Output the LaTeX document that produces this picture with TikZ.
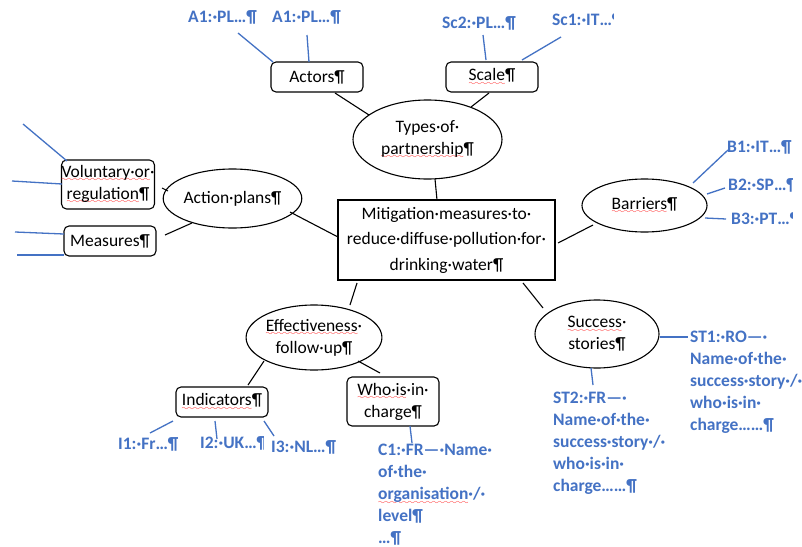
\documentclass[tikz,border=0pt]{standalone}
\usepackage{fontspec}
\setmainfont{Carlito}
\usetikzlibrary{shapes.geometric}
\font\mywave=lasy8
\newsavebox\rwbox
\newcommand\rw[1]{\sbox\rwbox{#1}\rlap{\textcolor{red}{\lower4.5pt\hbox to \wd\rwbox{\xleaders\hbox{\mywave\char58}\hfill}}}\usebox\rwbox}
\definecolor{wblue}{RGB}{68,114,196}
\newcommand\fsz{\fontsize{17.5}{22}\selectfont}
\newcommand\blk[1]{\begin{tabular}[t]{@{}l@{}}#1\end{tabular}}
\tikzset{
  box/.style={draw, rounded corners=5pt, line width=1.1pt, minimum width=92pt, inner sep=0pt, align=center, font=\fsz},
  oval/.style={draw, ellipse, line width=1.1pt, inner sep=0pt, align=center, font=\fsz},
  lbl/.style={text=wblue, font=\fsz\bfseries, anchor=base west, inner sep=0pt},
  conn/.style={line width=1.1pt},
  bconn/.style={wblue, line width=1.3pt}
}
\begin{document}
\begin{tikzpicture}[x=1pt,y=-1pt]
\useasboundingbox[fill=white] (0,0) rectangle (802,546);

% main nodes
\node[draw, line width=1.1pt, minimum width=217pt, minimum height=80pt, inner sep=0pt, align=center,
      font=\fontsize{17.5}{25.5}\selectfont] (central) at (446.5,240)
  {Mitigation·measures·to·\\reduce·diffuse·pollution·for·\\drinking·water¶};
\node[oval, minimum width=149pt, minimum height=79pt] (types) at (427.5,139.5) {Types·of·\\\rw{partnership}¶};
\node[box, minimum height=30pt] (actors) at (317,77) {Actors¶};
\node[box, minimum height=30pt] (scale) at (492,77) {\rw{Scale}¶};
\node[oval, minimum width=125pt, minimum height=53pt] (barriers) at (644.5,205.5) {\rw{Barriers}¶};
\node[oval, minimum width=125pt, minimum height=59pt] (action) at (232.5,198.5) {Action·plans¶};
\node[box, minimum height=49pt] (volreg) at (108,184.5) {\rw{Voluntary·or}·\\\rw{regulation}¶};
\node[box, minimum height=30pt] (measures) at (110,241) {Measures¶};
\node[oval, minimum width=124pt, minimum height=65pt] (effect) at (314,337.5) {\rw{Effectiveness}·\\follow·up¶};
\node[box, minimum height=30pt] (indicators) at (222,402) {\rw{Indicators}¶};
\node[box, minimum height=49pt] (who) at (393,401.5) {\rw{Who·is}·in·\\charge¶};
\node[oval, minimum width=124pt, minimum height=68pt] (success) at (597,334) {\rw{Success}·\\stories¶};

% blue labels
\node[lbl] (a1a) at (188,22) {A1:·PL…¶};
\node[lbl] (a1b) at (272,22) {A1:·PL…¶};
\node[lbl] (sc2) at (442,28) {Sc2:·PL…¶};
\begin{scope}
  \clip (0,0) rectangle (613,546);
  \node[lbl] (sc1) at (552,25.5) {Sc1:·IT…¶};
\end{scope}
\node[lbl] (b1) at (727,152.5) {B1:·IT…¶};
\begin{scope}
  \clip (0,0) rectangle (792,546);
  \node[lbl] (b2) at (728,190.5) {B2:·SP…¶};
  \node[lbl] (b3) at (731,224) {B3:·PT…¶};
\end{scope}
\node[lbl] (i1) at (118,449.5) {I1:·Fr…¶};
\begin{scope}
  \clip (0,0) rectangle (263,546);
  \node[lbl] (i2) at (200,448.5) {I2:·UK…¶};
\end{scope}
\node[lbl] (i3) at (271,452.5) {I3:·NL…¶};
\node[lbl] (c1) at (378,455.5) {\blk{C1:·FR—·Name·\\of·the·\\\rw{organisation}·/·\\level¶\\…¶}};
\node[lbl] (st1) at (690,342.5) {\blk{ST1:·RO—·\\Name·of·the·\\success·story·/·\\who·is·in·\\charge……¶}};
\node[lbl] (st2) at (553,403.5) {\blk{ST2:·FR—·\\Name·of·the·\\success·story·/·\\who·is·in·\\charge……¶}};

% free ends
\coordinate (v1) at (23,124);
\coordinate (v2) at (12,181);
\coordinate (m1) at (15,232);
\coordinate (m2) at (17,255);

% black connectors
\draw[conn] ([shift={(18,16)}]actors.center) -- ([shift={(-58.5,-24.5)}]types.center);
\draw[conn] ([shift={(-3,16)}]scale.center) -- ([shift={(43.5,-32.5)}]types.center);
\draw[conn] ([shift={(7.5,39.5)}]types.center) -- ([shift={(-9.5,-40)}]central.center);
\draw[conn] ([shift={(57.5,13.5)}]action.center) -- ([shift={(-108.5,-3)}]central.center);
\draw[conn] ([shift={(54,3.5)}]volreg.center) -- ([shift={(-64.5,-7.5)}]action.center);
\draw[conn] ([shift={(55,-6)}]measures.center) -- ([shift={(-40.5,24.5)}]action.center);
\draw[conn] ([shift={(-51.5,19.5)}]barriers.center) -- ([shift={(111.5,3)}]central.center);
\draw[conn] ([shift={(-89.5,43)}]central.center) -- ([shift={(36,-32.5)}]effect.center);
\draw[conn] ([shift={(-50,23.5)}]effect.center) -- ([shift={(26,-17)}]indicators.center);
\draw[conn] ([shift={(44,23.5)}]effect.center) -- ([shift={(-13,-28.5)}]who.center);
\draw[conn] ([shift={(76.5,43)}]central.center) -- ([shift={(-54,-26)}]success.center);

% blue connectors
\draw[bconn] ([shift={(50,11)}]a1a.base west) -- ([shift={(-44,-15)}]actors.center);
\draw[bconn] ([shift={(35,13)}]a1b.base west) -- ([shift={(-8,-15)}]actors.center);
\draw[bconn] ([shift={(41,7)}]sc2.base west) -- ([shift={(-6,-17)}]scale.center);
\draw[bconn] ([shift={(9,11.5)}]sc1.base west) -- ([shift={(30,-17)}]scale.center);
\draw[bconn] ([shift={(1,-2.5)}]b1.base west) -- ([shift={(48.5,-22.5)}]barriers.center);
\draw[bconn] ([shift={(-3,-2.5)}]b2.base west) -- ([shift={(62.5,-11.5)}]barriers.center);
\draw[bconn] ([shift={(-5,-5)}]b3.base west) -- ([shift={(60.5,12.5)}]barriers.center);
\draw[bconn] (v1) -- ([shift={(-41,-23.5)}]volreg.center);
\draw[bconn] (v2) -- ([shift={(-46,-0.5)}]volreg.center);
\draw[bconn] (m1) -- ([shift={(-46,-7)}]measures.center);
\draw[bconn] (m2) -- ([shift={(-46,14)}]measures.center);
\draw[bconn] ([shift={(-49,19)}]indicators.center) -- ([shift={(32,-16.5)}]i1.base west);
\draw[bconn] ([shift={(-7,19)}]indicators.center) -- ([shift={(17,-9.5)}]i2.base west);
\draw[bconn] ([shift={(42,19)}]indicators.center) -- ([shift={(3,-16.5)}]i3.base west);
\draw[bconn] ([shift={(17,24.5)}]who.center) -- ([shift={(34,-12.5)}]c1.base west);
\draw[bconn] ([shift={(63,3)}]success.center) -- ([shift={(-2,-5.5)}]st1.base west);
\draw[bconn] ([shift={(-6,34)}]success.center) -- ([shift={(40,-18.5)}]st2.base west);
\end{tikzpicture}
\end{document}
